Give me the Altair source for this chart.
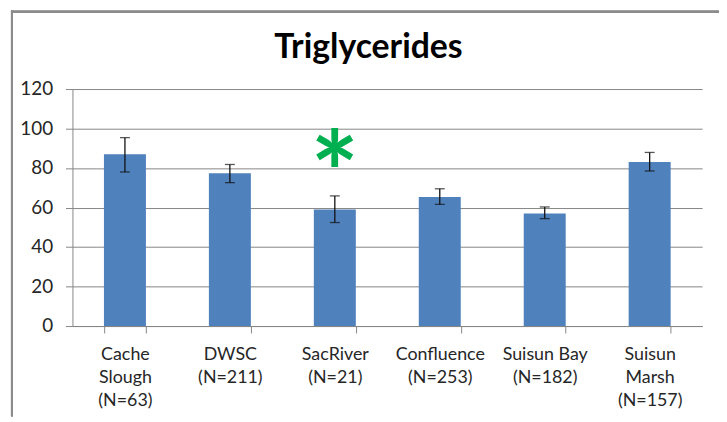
import altair as alt
import pandas as pd

# ---- data ----
sites = ["Cache|Slough|(N=63)", "DWSC|(N=211)", "SacRiver|(N=21)",
         "Confluence|(N=253)", "Suisun Bay|(N=182)", "Suisun|Marsh|(N=157)"]
means = [87.0, 77.3, 59.0, 65.4, 57.0, 83.0]
err_low = [78.0, 72.6, 52.4, 61.6, 54.4, 78.5]
err_high = [95.4, 81.8, 65.9, 69.5, 60.3, 87.9]
star_sites = ["SacRiver|(N=21)"]
star_values = [89.0]
y_ticks = [0, 20, 40, 60, 80, 100, 120]

df = pd.DataFrame({"site": sites, "mean": means, "lo": err_low, "hi": err_high})
star_df = pd.DataFrame({"site": star_sites, "v": star_values})

AXIS_GRAY = "#868686"
LABEL = "#262626"

x = alt.X(
    "site:N", sort=sites, title=None,
    scale=alt.Scale(paddingInner=0.6, paddingOuter=0.3),
    axis=alt.Axis(labelExpr="split(datum.label, '|')", labelAngle=0,
                  tickBand="extent", tickSize=7, tickColor=AXIS_GRAY,
                  domainColor=AXIS_GRAY, labelPadding=13, labelLineHeight=23,
                  labelFont="Lato", labelFontSize=18, labelColor=LABEL,
                  grid=False),
)
y_scale = alt.Scale(domain=[0, 120])
y_axis = alt.Axis(values=y_ticks, tickSize=7, tickColor=AXIS_GRAY,
                  domainColor=AXIS_GRAY, grid=True, gridColor=AXIS_GRAY,
                  labelFont="Lato", labelFontSize=19, labelColor=LABEL,
                  labelPadding=13, labelOverlap=False)


def yenc(field):
    return alt.Y(field, scale=y_scale, axis=y_axis, title=None)


bars = alt.Chart(df).mark_bar(color="#4F81BD").encode(x=x, y=yenc("mean:Q"))

err = alt.Chart(df).mark_rule(color="#111111", strokeWidth=1.3).encode(
    x=x, y=yenc("lo:Q"), y2="hi:Q")
cap_lo = alt.Chart(df).mark_tick(color="#111111", thickness=1.3, size=10).encode(
    x=x, y=yenc("lo:Q"))
cap_hi = alt.Chart(df).mark_tick(color="#111111", thickness=1.3, size=10).encode(
    x=x, y=yenc("hi:Q"))

star = alt.Chart(star_df).mark_text(
    text="*", font="Lato", fontWeight="bold", fontSize=115,
    color="#00B050", baseline="middle", dy=30).encode(x=x, y=yenc("v:Q"))

frame_left = alt.Chart(df).mark_rule(color="#8c8c8c", strokeWidth=2).encode(
    x=alt.value(-61), x2=alt.value(-61), y=alt.value(-79), y2=alt.value(330))
frame_top = alt.Chart(df).mark_rule(color="#8c8c8c", strokeWidth=2).encode(
    x=alt.value(-62), x2=alt.value(660), y=alt.value(-78), y2=alt.value(-78))

chart = alt.layer(bars, err, cap_lo, cap_hi, star, frame_left, frame_top).properties(
    width=635, height=239,
    autosize=alt.AutoSizeParams(type="none"),
    padding={"left": 65, "top": 80, "right": 17, "bottom": 90},
    title=alt.Title("Triglycerides", font="Lato", fontSize=34, fontWeight="bold",
                    color="#000000", dx=-19, dy=56, offset=0),
).configure_view(stroke=None)

chart.save("out.html", embed_options={"renderer": "svg", "actions": False})
